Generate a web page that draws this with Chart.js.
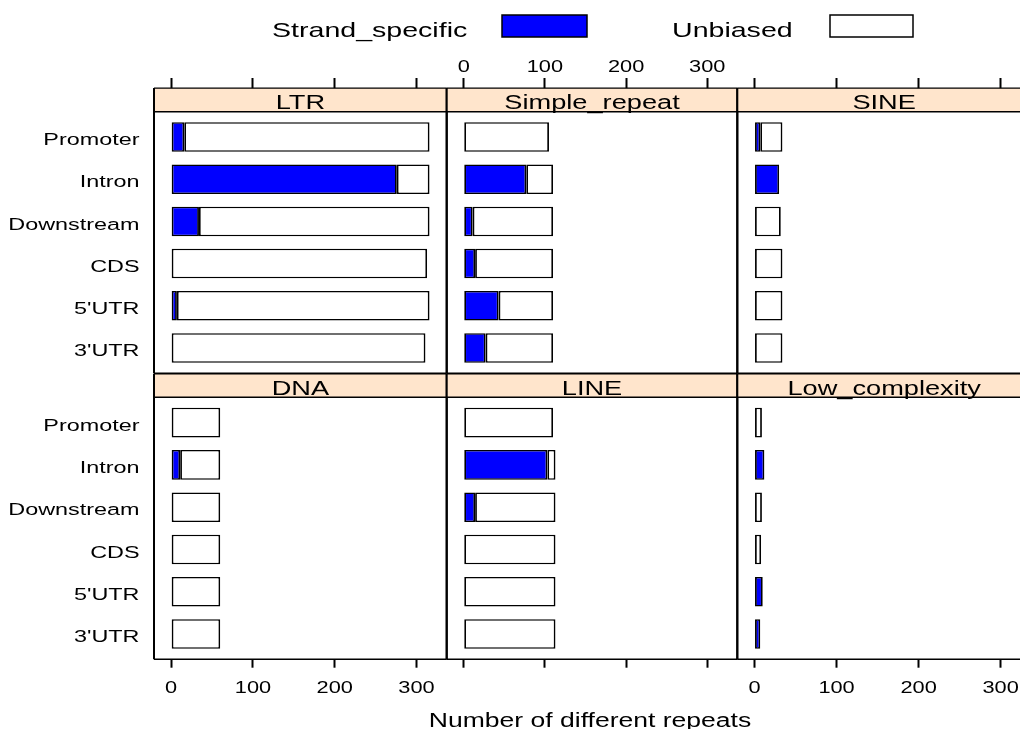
<!DOCTYPE html>
<html>
<head>
<meta charset="utf-8">
<script src="https://cdn.jsdelivr.net/npm/chart.js@4/dist/chart.umd.min.js"></script>
<style>
  html, body { margin: 0; padding: 0; background: #fff; overflow: hidden; }
  #figure { position: relative; width: 1020px; height: 729px; overflow: hidden; background: #fff; }
  #figure canvas { position: absolute; left: 0; top: 0; }
</style>
</head>
<body>
<div id="figure"></div>
<script>
// ---- data -------------------------------------------------------------
const regions = ['Promoter', 'Intron', 'Downstream', 'CDS', "5'UTR", "3'UTR"];
const repeatClasses = ['LTR', 'Simple_repeat', 'SINE', 'DNA', 'LINE', 'Low_complexity'];
const seriesNames = ['Strand_specific', 'Unbiased'];

const strandLTR = [16, 276, 34, 0, 7, 0];
const unbiasedLTR = [300, 40, 282, 313, 309, 311];
const strandSimple = [0, 77, 11, 14, 43, 27];
const unbiasedSimple = [105, 33, 99, 96, 67, 83];
const strandSINE = [7, 30, 0, 0, 0, 0];
const unbiasedSINE = [27, 0, 32, 34, 34, 34];
const strandDNA = [0, 11, 0, 0, 0, 0];
const unbiasedDNA = [60, 49, 60, 60, 60, 60];
const strandLINE = [0, 103, 14, 0, 0, 0];
const unbiasedLINE = [110, 10, 99, 113, 113, 113];
const strandLowCx = [0, 12, 0, 0, 10, 7];
const unbiasedLowCx = [9, 0, 9, 8, 0, 0];

const xTickValues = [0, 100, 200, 300];
const xAxisTitle = 'Number of different repeats';

// ---- look -------------------------------------------------------------
const W = 1060, H = 729;
const COLS = [154, 446.7, 737.3, 1031];
const ROWS = [[111.7, 373.3], [397.3, 659.3]];
const STRIP_H = 23.6;
const BOTTOM_AXIS_H = 60;
const X_MIN = -21, X_MAX = 337;
const TEXT_SX = 1.36;
const FONT = "'Liberation Sans', Arial, Helvetica, sans-serif";
const COLORS = { strand: '#0000FF', unbiased: '#FFFFFF', strip: '#FFE5CC', ink: '#000000' };

// wide lettering: every string on a panel canvas is stretched horizontally
function widenText(ctx) {
  const fill = ctx.fillText;
  ctx.fillText = function (text, x, y, maxWidth) {
    this.save();
    this.translate(x, y);
    this.scale(TEXT_SX, 1);
    if (maxWidth === undefined) fill.call(this, text, 0, 0);
    else fill.call(this, text, 0, 0, maxWidth / TEXT_SX);
    this.restore();
  };
}

function drawKeyAndAxisTitle(ctx) {
  ctx.fillStyle = COLORS.ink;
  ctx.font = `21px ${FONT}`;
  ctx.textAlign = 'left';
  ctx.textBaseline = 'alphabetic';
  ctx.fillText(seriesNames[0], 272, 36.7);
  ctx.fillText(seriesNames[1], 672, 36.7);
  ctx.lineWidth = 1.5;
  ctx.strokeStyle = COLORS.ink;
  ctx.fillStyle = COLORS.strand;
  ctx.fillRect(502, 15, 85, 22);
  ctx.strokeRect(502, 15, 85, 22);
  ctx.fillStyle = COLORS.unbiased;
  ctx.fillRect(830, 15, 83, 22);
  ctx.strokeRect(830, 15, 83, 22);
  ctx.fillStyle = COLORS.ink;
  ctx.font = `19.5px ${FONT}`;
  ctx.textAlign = 'center';
  ctx.fillText(xAxisTitle, 590, 726.7);
}

// strip header + panel frame
const latticePanel = {
  id: 'latticePanel',
  afterDraw(chart, _args, opts) {
    const ctx = chart.ctx, a = chart.chartArea;
    const st = a.top - STRIP_H;
    ctx.save();
    ctx.fillStyle = COLORS.strip;
    ctx.fillRect(a.left, st, a.right - a.left, STRIP_H);
    ctx.strokeStyle = COLORS.ink;
    ctx.lineWidth = 1.4;
    ctx.beginPath();
    [st, a.top, a.bottom].forEach(y => { ctx.moveTo(a.left, y); ctx.lineTo(a.right, y); });
    ctx.stroke();
    ctx.lineWidth = 2;
    ctx.beginPath();
    ctx.moveTo(a.left, st); ctx.lineTo(a.left, a.bottom);
    ctx.moveTo(a.right, st); ctx.lineTo(a.right, a.bottom);
    ctx.stroke();
    ctx.fillStyle = COLORS.ink;
    ctx.font = `20px ${FONT}`;
    ctx.textAlign = 'center';
    ctx.textBaseline = 'alphabetic';
    ctx.fillText(opts.title, (a.left + a.right) / 2, a.top - 2.5);
    if (opts.decorations) drawKeyAndAxisTitle(ctx);
    ctx.restore();
  }
};

const panels = [
  { name: repeatClasses[0], strand: strandLTR, unbiased: unbiasedLTR, row: 0, col: 0, xLabels: false, yLabels: true, decorations: true },
  { name: repeatClasses[1], strand: strandSimple, unbiased: unbiasedSimple, row: 0, col: 1, xLabels: true, yLabels: false },
  { name: repeatClasses[2], strand: strandSINE, unbiased: unbiasedSINE, row: 0, col: 2, xLabels: false, yLabels: false },
  { name: repeatClasses[3], strand: strandDNA, unbiased: unbiasedDNA, row: 1, col: 0, xLabels: true, yLabels: true },
  { name: repeatClasses[4], strand: strandLINE, unbiased: unbiasedLINE, row: 1, col: 1, xLabels: false, yLabels: false },
  { name: repeatClasses[5], strand: strandLowCx, unbiased: unbiasedLowCx, row: 1, col: 2, xLabels: true, yLabels: false }
];

const figure = document.getElementById('figure');

function makePanel(p) {
  const canvas = document.createElement('canvas');
  canvas.width = W; canvas.height = H;
  figure.appendChild(canvas);
  const ctx = canvas.getContext('2d');
  widenText(ctx);

  const [top, bottom] = ROWS[p.row];
  const left = COLS[p.col], right = COLS[p.col + 1];
  const onTop = p.row === 0;

  // axis boxes are given fixed sizes so the plot area lands exactly on the panel
  const yAxisW = p.yLabels ? left : 0;
  const xAxisH = onTop ? top : BOTTOM_AXIS_H;
  const padding = {
    left: left - yAxisW,
    right: W - right,
    top: onTop ? 0 : top,
    bottom: onTop ? H - bottom : H - bottom - xAxisH
  };

  // stacked segments as floating bars: strand-specific first, unbiased after it
  const strandBars = [], unbiasedBars = [];
  p.strand.forEach((s, i) => {
    const u = p.unbiased[i];
    if (s > 0) strandBars.push({ x: [0, s], y: i + 1 });
    if (u > 0) unbiasedBars.push({ x: [s, s + u], y: i + 1 });
  });

  return new Chart(ctx, {
    type: 'bar',
    data: {
      datasets: [
        { label: seriesNames[0], data: strandBars, backgroundColor: COLORS.strand },
        { label: seriesNames[1], data: unbiasedBars, backgroundColor: COLORS.unbiased }
      ]
    },
    options: {
      indexAxis: 'y',
      responsive: false,
      animation: false,
      devicePixelRatio: 1,
      events: [],
      layout: { autoPadding: false, padding },
      datasets: {
        bar: {
          borderColor: COLORS.ink,
          borderWidth: { left: 1.8, right: 1.8, top: 1.5, bottom: 1.5 },
          borderSkipped: false,
          grouped: false,
          barPercentage: 0.7,
          categoryPercentage: 1
        }
      },
      plugins: {
        legend: { display: false },
        tooltip: { enabled: false },
        latticePanel: { title: p.name, decorations: !!p.decorations }
      },
      scales: {
        x: {
          type: 'linear',
          position: onTop ? 'top' : 'bottom',
          min: X_MIN, max: X_MAX,
          offset: false,
          afterBuildTicks: s => { s.ticks = xTickValues.map(v => ({ value: v })); },
          afterFit: s => { s.height = xAxisH; },
          grid: { offset: false, drawOnChartArea: false, drawTicks: true, tickLength: onTop ? 33.7 : 8.4, tickColor: COLORS.ink, tickWidth: 2 },
          border: { display: false },
          ticks: {
            display: p.xLabels, color: COLORS.ink, autoSkip: false, maxRotation: 0,
            padding: onTop ? 1.3 : 11,
            font: { family: FONT, size: 16 }
          }
        },
        y: {
          type: 'linear',
          position: 'left',
          min: 0.4, max: 6.6,
          reverse: true,
          offset: false,
          afterBuildTicks: s => { s.ticks = regions.map((_, i) => ({ value: i + 1 })); },
          afterFit: s => { s.width = yAxisW; },
          grid: { offset: false, drawOnChartArea: false, drawTicks: false },
          border: { display: false },
          ticks: {
            display: p.yLabels, color: COLORS.ink, autoSkip: false, padding: 14.5,
            font: { family: FONT, size: 17.2, lineHeight: '7px' },
            callback: v => ['', regions[Math.round(v) - 1] || '']
          }
        }
      }
    },
    plugins: [latticePanel]
  });
}

panels.forEach(makePanel);
</script>
</body>
</html>
